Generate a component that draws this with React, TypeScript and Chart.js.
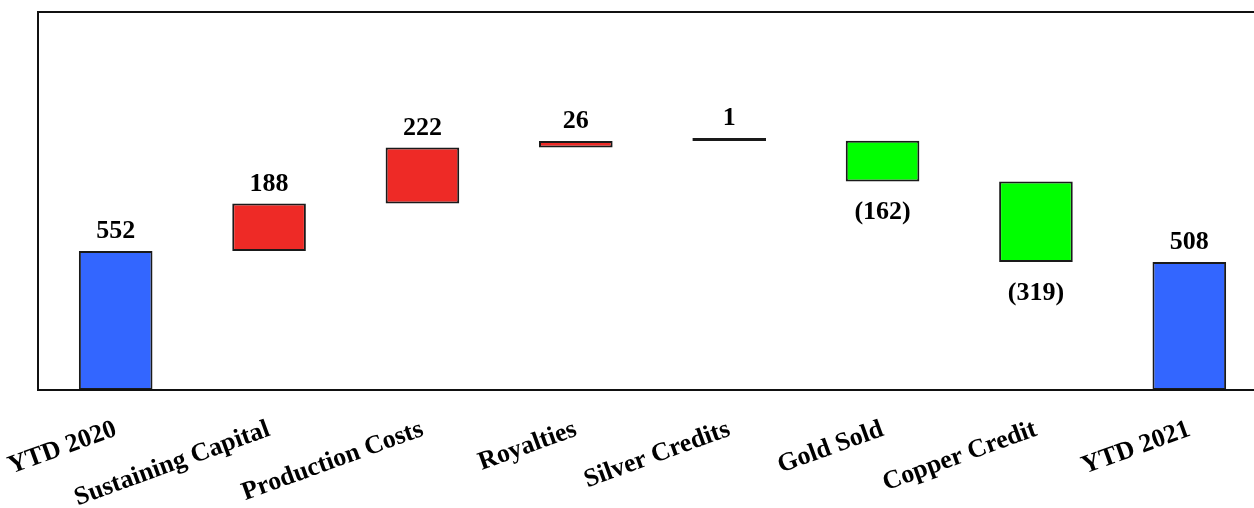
import React, { useEffect, useRef } from "react";
import { Chart, registerables } from "chart.js";

Chart.register(...registerables);

const categories = [
  "YTD 2020",
  "Sustaining Capital",
  "Production Costs",
  "Royalties",
  "Silver Credits",
  "Gold Sold",
  "Copper Credit",
  "YTD 2021",
];
const changes = [552, 188, 222, 26, 1, -162, -319, 508];
const isTotal = [true, false, false, false, false, false, false, true];
const dataLabels = ["552", "188", "222", "26", "1", "(162)", "(319)", "508"];

const BLUE = "#3366FF";
const RED = "#EE2A26";
const GREEN = "#00FF00";
const LINE = "#000000";

export default function App() {
  const ref = useRef<HTMLCanvasElement | null>(null);

  useEffect(() => {
    if (!ref.current) return;
    let cum = 0;
    const ranges: [number, number][] = [];
    changes.forEach((v, i) => {
      if (isTotal[i]) {
        ranges.push([0, v]);
        cum = v;
      } else {
        ranges.push([cum, cum + v]);
        cum += v;
      }
    });
    const colors = changes.map((v, i) => {
      if (isTotal[i]) return BLUE;
      if (Math.abs(v) < 2) return LINE;
      return v > 0 ? RED : GREEN;
    });

    const family = "'Liberation Serif', 'Times New Roman', serif";
    const tickFont = { family, size: 26, weight: "bold" as const };
    const labelSize = 26;

    const framePlugin = {
      id: "frame",
      afterDatasetsDraw(chart: any) {
        const { ctx, chartArea } = chart;
        ctx.save();
        ctx.strokeStyle = "#111";
        ctx.lineWidth = 2;
        ctx.strokeRect(chartArea.left - 1, chartArea.top, chartArea.right - chartArea.left + 40, chartArea.bottom - chartArea.top);
        ctx.restore();

        const meta = chart.getDatasetMeta(0);
        ctx.save();
        ctx.fillStyle = "#000";
        ctx.font = `bold ${labelSize}px ${family}`;
        ctx.textAlign = "center";
        meta.data.forEach((el: any, i: number) => {
          const top = Math.min(el.y, el.base);
          const bottom = Math.max(el.y, el.base);
          if (changes[i] >= 0) {
            ctx.textBaseline = "alphabetic";
            ctx.fillText(dataLabels[i], el.x, top - 13);
          } else {
            ctx.textBaseline = "top";
            ctx.fillText(dataLabels[i], el.x, bottom + 18);
          }
        });
        ctx.restore();
      },
    };

    const chart = new Chart(ref.current, {
      type: "bar",
      data: {
        labels: categories,
        datasets: [
          {
            data: ranges as any,
            backgroundColor: colors,
            borderColor: "#1a1a1a",
            borderWidth: 2,
            borderSkipped: false,
            minBarLength: 3,
            categoryPercentage: 1,
            barPercentage: 0.48,
          },
        ],
      },
      options: {
        responsive: false,
        animation: false,
        layout: { padding: { left: 39, top: 12, right: 14, bottom: 0 } },
        plugins: { legend: { display: false }, tooltip: { enabled: false } },
        scales: {
          x: {
            grid: { display: false, drawTicks: false },
            border: { display: false },
            ticks: {
              color: "#000",
              font: tickFont,
              minRotation: 20,
              maxRotation: 20,
              autoSkip: false,
              padding: 24,
            },
            afterFit: (scale: any) => {
              scale.height = 118;
              scale.paddingLeft = 0;
              scale.paddingRight = 0;
            },
          },
          y: {
            display: false,
            min: 0,
            max: 1500,
          },
        },
      },
      plugins: [framePlugin],
    });
    return () => chart.destroy();
  }, []);

  return (
    <div style={{ position: "absolute", left: 0, top: 0, width: 1254, height: 508, overflow: "hidden", background: "#fff" }}>
      <canvas ref={ref} width={1280} height={508} style={{ display: "block", width: 1280, height: 508 }} />
    </div>
  );
}
